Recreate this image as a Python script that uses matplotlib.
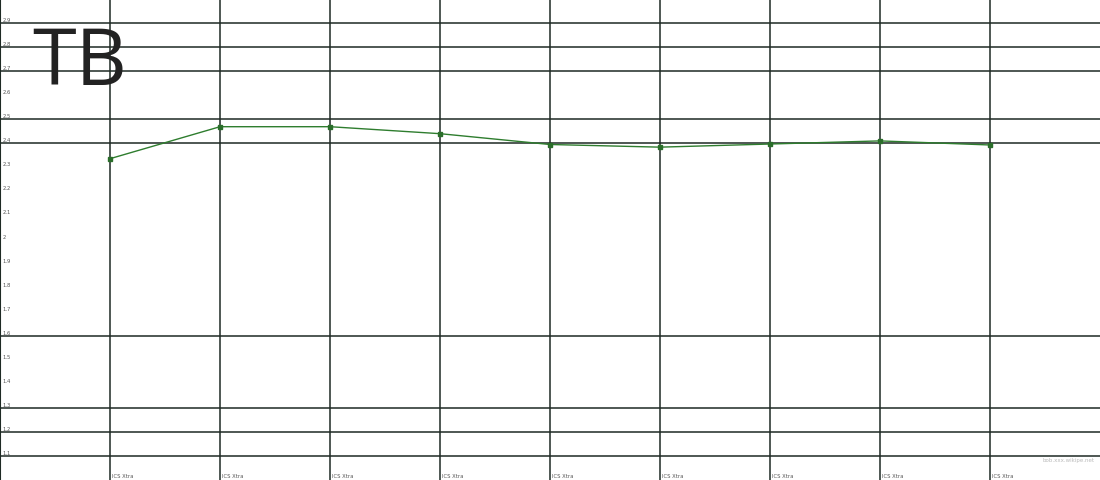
import numpy as np
import matplotlib
matplotlib.use("Agg")
import matplotlib.pyplot as plt

# data
x_labels = ["ICS Xtra"] * 9
values = [2.336, 2.469, 2.469, 2.44, 2.395, 2.384, 2.397, 2.41, 2.393]
y_labels = [1.1, 1.2, 1.3, 1.4, 1.5, 1.6, 1.7, 1.8, 1.9, 2, 2.1, 2.2, 2.3, 2.4, 2.5, 2.6, 2.7, 2.8, 2.9]
grid_rows = [1.1, 1.2, 1.3, 1.6, 2.4, 2.5, 2.7, 2.8, 2.9]
title = "TB"

fig = plt.figure(figsize=(11, 4.81), dpi=100)
ax = fig.add_axes([0, 0, 1, 1])
ax.set_xlim(0, 10)
ax.set_ylim(1.0, 3.0)
ax.set_xticks([])
ax.set_yticks([])
for s in ["top", "right", "bottom"]:
    ax.spines[s].set_visible(False)
ax.spines["left"].set_color("#1e2a24")
ax.spines["left"].set_linewidth(1.5)

grid_col = "#1e2a24"
xs = np.arange(1, len(values) + 1)
for x in xs:
    ax.axvline(x, color=grid_col, lw=1.1, zorder=1)
for y in grid_rows:
    ax.axhline(y, color=grid_col, lw=1.1, zorder=1)

ax.plot(xs, values, color="#2e7d2e", lw=1.0, marker="s", ms=3,
        mfc="#2a6e2a", mec="#2a6e2a", zorder=3)

for v in y_labels:
    ax.text(0.02, v + 0.004, f"{v:g}", fontsize=3.8, color="#555555",
            va="bottom", ha="left")
for x, lab in zip(xs, x_labels):
    ax.text(x + 0.02, 1.017, lab, fontsize=3.8, color="#555555",
            va="center", ha="left")

ax.text(0.29, 2.647, title, fontsize=57, color="#222222", family="Open Sans",
        va="baseline", ha="left")
ax.text(9.95, 1.085, "bob.xxx.wikipe.net", fontsize=4, color="#bbbbbb",
        va="center", ha="right")

fig.savefig("out.png", dpi=100)
